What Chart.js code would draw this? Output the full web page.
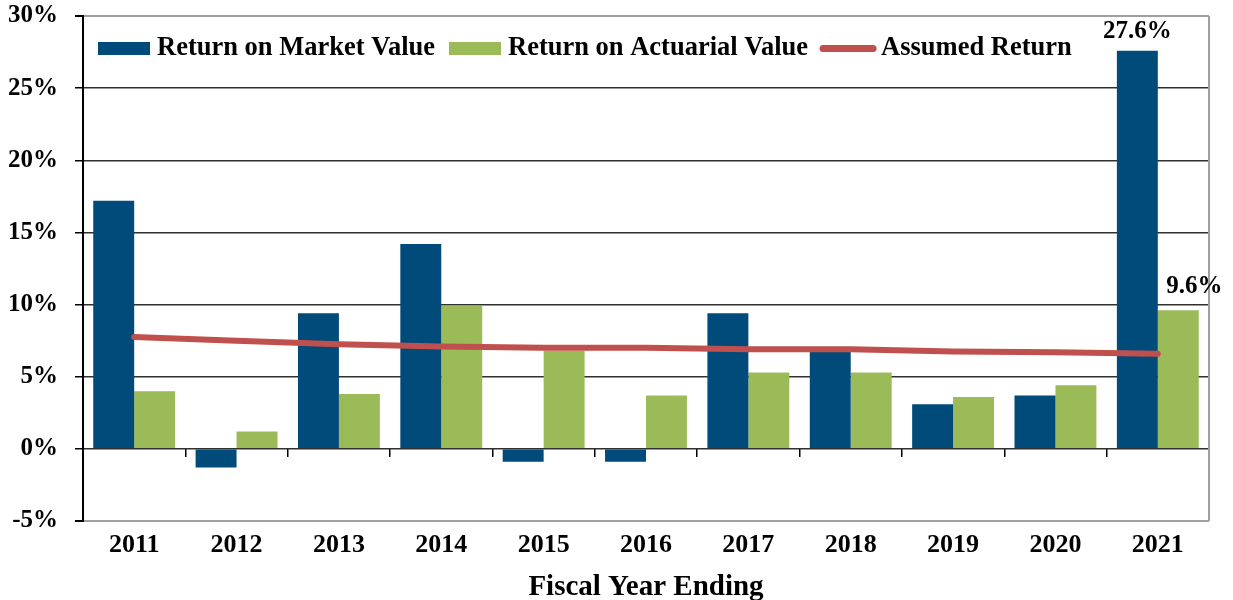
<!DOCTYPE html>
<html>
<head>
<meta charset="utf-8">
<title>Investment Returns</title>
<script src="https://cdn.jsdelivr.net/npm/chart.js@4.4.1/dist/chart.umd.min.js"></script>
<style>
  html, body { margin: 0; padding: 0; background: #fff; }
  #wrap { width: 1233px; height: 600px; position: relative; }
</style>
</head>
<body>
<div id="wrap"><canvas id="chart-returns"></canvas></div>
<script>
// values (percent)
const years = ['2011', '2012', '2013', '2014', '2015', '2016', '2017', '2018', '2019', '2020', '2021'];
const marketReturn = [17.2, -1.3, 9.4, 14.2, -0.9, -0.9, 9.4, 6.8, 3.1, 3.7, 27.6];
const actuarialReturn = [4.0, 1.2, 3.8, 9.9, 6.8, 3.7, 5.3, 5.3, 3.6, 4.4, 9.6];
const assumedReturn = [7.75, 7.5, 7.25, 7.1, 7.0, 7.0, 6.9, 6.9, 6.75, 6.7, 6.6];
const yRange = [-5, 30];
const yStep = 5;
const lastYearLabels = ['27.6%', '9.6%'];

const serif = "'Liberation Serif', 'Times New Roman', serif";
Chart.defaults.font.family = serif;
Chart.defaults.font.weight = 'bold';
Chart.defaults.color = '#000';

// legend drawn inside the plot area, like the original
const insideLegend = {
    id: 'insideLegend',
    afterDraw(chart) {
        const {ctx, chartArea} = chart;
        const y = chartArea.top + 32.5;
        let x = chartArea.left + 15;
        ctx.save();
        ctx.font = 'bold 26.5px ' + serif;
        ctx.textBaseline = 'middle';
        chart.data.datasets.forEach((ds) => {
            if (ds.type === 'line') {
                ctx.strokeStyle = ds.borderColor;
                ctx.lineWidth = 7;
                ctx.lineCap = 'round';
                ctx.beginPath();
                ctx.moveTo(x + 1, y);
                ctx.lineTo(x + 51, y);
                ctx.stroke();
            } else {
                ctx.fillStyle = ds.backgroundColor;
                ctx.fillRect(x, y - 6.5, 52, 13);
            }
            x += 52 + 7;
            ctx.fillStyle = '#000';
            ctx.fillText(ds.label, x, y);
            x += ctx.measureText(ds.label).width + 14;
        });
        ctx.restore();
    }
};

// grey frame on the right, value labels over the 2021 bars
const frameAndLabels = {
    id: 'frameAndLabels',
    beforeDatasetsDraw(chart) {
        const {ctx, chartArea} = chart;
        ctx.save();
        ctx.strokeStyle = '#a0a0a0';
        ctx.lineWidth = 2;
        ctx.beginPath();
        ctx.moveTo(chartArea.right, chartArea.top);
        ctx.lineTo(chartArea.right, chartArea.bottom);
        ctx.stroke();
        ctx.restore();
    },
    afterDatasetsDraw(chart) {
        const ctx = chart.ctx;
        const last = years.length - 1;
        const shift = [{dx: 0, dy: 13}, {dx: 16, dy: 17}];
        ctx.save();
        ctx.font = 'bold 25px ' + serif;
        ctx.fillStyle = '#000';
        ctx.textAlign = 'center';
        ctx.textBaseline = 'alphabetic';
        lastYearLabels.forEach((txt, di) => {
            const bar = chart.getDatasetMeta(di).data[last];
            ctx.fillText(txt, bar.x + shift[di].dx, bar.y - shift[di].dy);
        });
        ctx.restore();
    }
};

const theChart = new Chart(document.getElementById('chart-returns'), {
    type: 'bar',
    data: {
        labels: years,
        datasets: [{
            label: 'Return on Market Value',
            data: marketReturn,
            backgroundColor: '#004B7A',
            categoryPercentage: 0.8,
            barPercentage: 1.0,
            order: 1
        }, {
            label: 'Return on Actuarial Value',
            data: actuarialReturn,
            backgroundColor: '#9BBB59',
            categoryPercentage: 0.8,
            barPercentage: 1.0,
            order: 1
        }, {
            type: 'line',
            label: 'Assumed Return',
            data: assumedReturn,
            borderColor: '#C0504D',
            backgroundColor: '#C0504D',
            borderWidth: 6,
            borderCapStyle: 'round',
            pointRadius: 0,
            tension: 0,
            order: 0
        }]
    },
    options: {
        responsive: true,
        maintainAspectRatio: false,
        animation: false,
        layout: {
            padding: {top: 16, right: 24, left: 0, bottom: 0}
        },
        plugins: {
            legend: {display: false},
            tooltip: {enabled: false}
        },
        scales: {
            x: {
                offset: true,
                grid: {display: false, drawTicks: false},
                border: {display: false},
                ticks: {
                    font: {size: 26, weight: 'bold'},
                    padding: 9
                },
                title: {
                    display: true,
                    text: 'Fiscal Year Ending',
                    font: {size: 29, weight: 'bold', lineHeight: 1},
                    padding: {top: 0, bottom: -2}
                },
                afterFit(scale) {
                    scale.height = 79;
                }
            },
            // tick marks along the zero line
            x2: {
                type: 'category',
                labels: years,
                position: {y: 0},
                offset: true,
                grid: {
                    offset: true,
                    drawOnChartArea: false,
                    drawTicks: true,
                    tickLength: 8,
                    color: '#000',
                    lineWidth: 1.5
                },
                ticks: {display: false},
                border: {display: false}
            },
            y: {
                min: yRange[0],
                max: yRange[1],
                ticks: {
                    stepSize: yStep,
                    font: {size: 25, weight: 'bold'},
                    padding: 17,
                    callback: (v) => v + '%'
                },
                grid: {
                    color: (c) => (c.tick && (c.tick.value === yRange[0] || c.tick.value === yRange[1])) ? '#a0a0a0' : '#303030',
                    lineWidth: (c) => (c.tick && (c.tick.value === yRange[0] || c.tick.value === yRange[1])) ? 2 : 1.5,
                    tickColor: '#000',
                    tickLength: 8
                },
                border: {display: true, color: '#000', width: 2},
                afterFit(scale) {
                    scale.width = 83;
                    scale.paddingTop = 0;
                    scale.paddingBottom = 0;
                }
            }
        }
    },
    plugins: [insideLegend, frameAndLabels]
});
</script>
</body>
</html>
